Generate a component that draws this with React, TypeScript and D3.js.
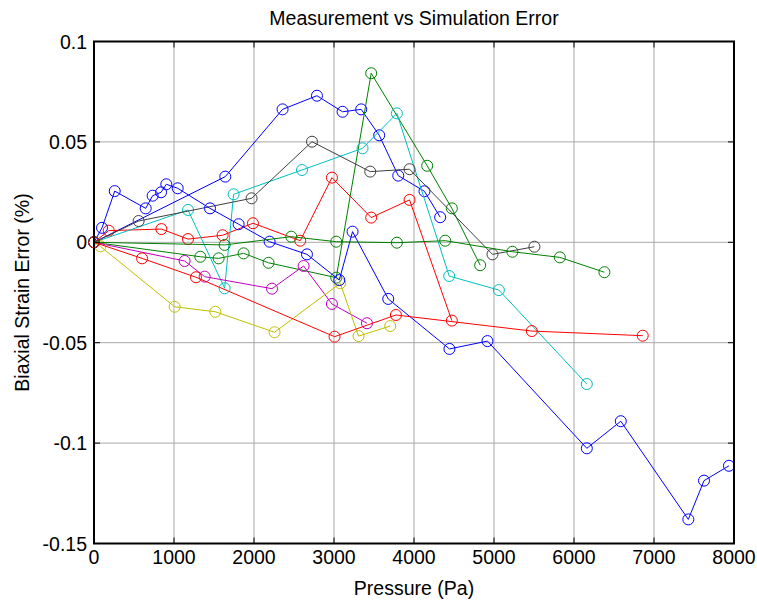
import React from "react";
import * as d3 from "d3";

const xTicks = [0, 1000, 2000, 3000, 4000, 5000, 6000, 7000, 8000];
const yTicks = [-0.15, -0.1, -0.05, 0, 0.05, 0.1];
const yTickLabels = ["-0.15", "-0.1", "-0.05", "0", "0.05", "0.1"];

const blueA: [number, number][] = [[0,0],[1641,0.0327],[2357,0.0662],[2787,0.0730],[3107,0.0650],[3340,0.0662],[3565,0.0533],[3803,0.0332],[4131,0.0254],[4327,0.0125]];
const greenA: [number, number][] = [[0,0],[1329,-0.0072],[1558,-0.0080],[1870,-0.0055],[2182,-0.0102],[3028,-0.0176],[3465,0.0842],[4165,0.0381],[4473,0.0169],[4827,-0.0114]];
const redA: [number, number][] = [[0,0],[184,0.0058],[842,0.0066],[1175,0.0016],[1608,0.0035],[1987,0.0095],[2578,0.0008],[2974,0.0322],[3465,0.0123],[3944,0.0211],[4473,-0.0390]];
const cyanS: [number, number][] = [[0,0],[1175,0.0161],[1633,-0.0229],[1745,0.0239],[2600,0.0360],[3357,0.0468],[3786,0.0642],[4440,-0.0168],[5061,-0.0238],[6160,-0.0706]];
const magentaS: [number, number][] = [[0,0],[1133,-0.0093],[1383,-0.0171],[2225,-0.0231],[2620,-0.0118],[2974,-0.0307],[3412,-0.0403]];
const yellowS: [number, number][] = [[0,0],[80,-0.0020],[1008,-0.0321],[1517,-0.0346],[2257,-0.0448],[3078,-0.0204],[3307,-0.0467],[3703,-0.0417]];
const blackS: [number, number][] = [[0,0],[558,0.0106],[1970,0.0219],[2725,0.0501],[3453,0.0352],[3944,0.0364],[4981,-0.0060],[5505,-0.0022]];
const blueB: [number, number][] = [[0,0],[100,0.0072],[259,0.0255],[646,0.0169],[733,0.0232],[838,0.0249],[904,0.0289],[1046,0.0269],[1450,0.0169],[1808,0.0090],[2195,0.0003],[2662,-0.0060],[3066,-0.0188],[3232,0.0053],[3678,-0.0282],[4443,-0.0531],[4918,-0.0492],[6160,-0.1026],[6585,-0.0891],[7429,-0.1380],[7625,-0.1187],[7937,-0.1113]];
const greenB: [number, number][] = [[0,0],[1633,-0.0013],[2466,0.0028],[3028,0.0003],[3786,-0.0002],[4390,0.0008],[5230,-0.0047],[5823,-0.0075],[6380,-0.0149]];
const redB: [number, number][] = [[0,0],[601,-0.0080],[1275,-0.0174],[3007,-0.0470],[3774,-0.0362],[5473,-0.0442],[6859,-0.0465]];

const seriesList = [blueA, greenA, redA, cyanS, magentaS, yellowS, blackS, blueB, greenB, redB];
const seriesColors = ["#0000ff", "#008000", "#ff0000", "#00bfbf", "#bf00bf", "#bfbf00", "#404040", "#0000ff", "#008000", "#ff0000"];

const W = 757, H = 601;
const left = 94, right = 734, top = 41.5, bottom = 543.5;
const FONT = "'Liberation Sans', Arial, Helvetica, sans-serif";
const FS = 19.5;

export default function App() {
  const x = d3.scaleLinear().domain([0, 8000]).range([left, right]);
  const y = d3.scaleLinear().domain([-0.15, 0.1]).range([bottom, top]);
  const line = d3.line<[number, number]>().x(d => x(d[0])).y(d => y(d[1]));
  const tl = 6;
  return (
    <svg width={W} height={H} style={{ position: "absolute", left: 0, top: 0, background: "#fff" }} fontFamily={FONT}>
      <rect x={0} y={0} width={W} height={H} fill="#fff" />
      {xTicks.slice(1, -1).map(t => (
        <line key={"gx" + t} x1={x(t)} x2={x(t)} y1={top} y2={bottom} stroke="#a8a8a8" strokeWidth={1} />
      ))}
      {yTicks.slice(1, -1).map(t => (
        <line key={"gy" + t} x1={left} x2={right} y1={y(t)} y2={y(t)} stroke="#a8a8a8" strokeWidth={1} />
      ))}
      {seriesList.map((s, i) => (
        <g key={"s" + i}>
          <path d={line(s) || ""} fill="none" stroke={seriesColors[i]} strokeWidth={1} />
          {s.map((p, j) => (
            <circle key={j} cx={x(p[0])} cy={y(p[1])} r={5.5} fill="none" stroke={seriesColors[i]} strokeWidth={1} />
          ))}
        </g>
      ))}
      {xTicks.map(t => (
        <g key={"tx" + t}>
          <line x1={x(t)} x2={x(t)} y1={bottom} y2={bottom - tl} stroke="#000" />
          <line x1={x(t)} x2={x(t)} y1={top} y2={top + tl} stroke="#000" />
          <text x={x(t)} y={bottom + 20} textAnchor="middle" fontSize={FS}>{t}</text>
        </g>
      ))}
      {yTicks.map((t, i) => (
        <g key={"ty" + t}>
          <line x1={left} x2={left + tl} y1={y(t)} y2={y(t)} stroke="#000" />
          <line x1={right} x2={right - tl} y1={y(t)} y2={y(t)} stroke="#000" />
          <text x={left - 7} y={y(t) + 7} textAnchor="end" fontSize={FS}>{yTickLabels[i]}</text>
        </g>
      ))}
      <rect x={left} y={top} width={right - left} height={bottom - top} fill="none" stroke="#000" strokeWidth={2} />
      <text x={(left + right) / 2} y={25} textAnchor="middle" fontSize={FS}>Measurement vs Simulation Error</text>
      <text x={(left + right) / 2} y={595} textAnchor="middle" fontSize={FS}>Pressure (Pa)</text>
      <text transform={`translate(29, ${(top + bottom) / 2}) rotate(-90)`} textAnchor="middle" fontSize={FS}>Biaxial Strain Error (%)</text>
    </svg>
  );
}
